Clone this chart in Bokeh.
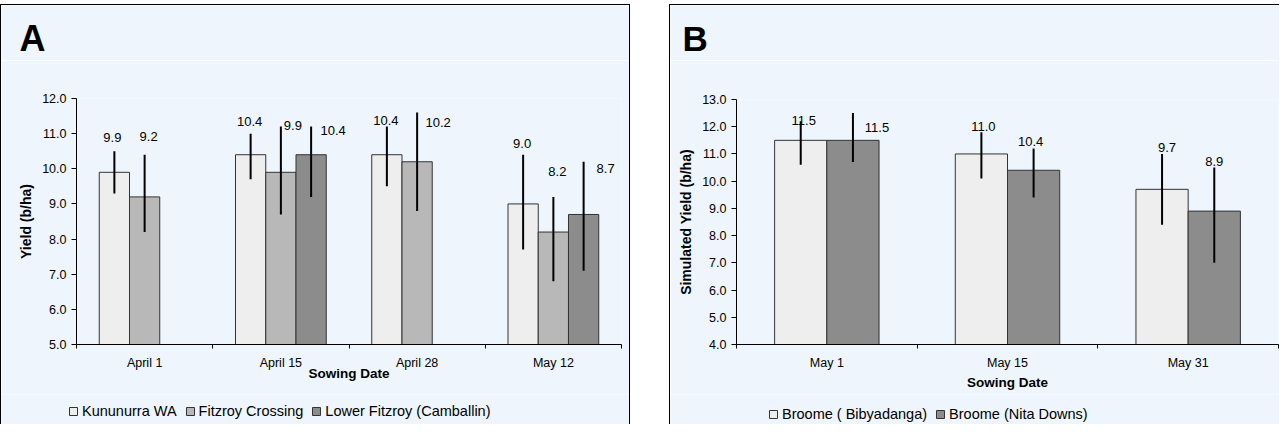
import numpy as np
from bokeh.plotting import figure
from bokeh.models import (ColumnDataSource, Range1d, FixedTicker, PrintfTickFormatter,
                          Legend, LegendItem, Label)
from bokeh.layouts import row, column
from bokeh.core.properties import value
from bokeh.embed import file_html
from bokeh.resources import INLINE

nan = float("nan")

# ---------------- data: panel A ----------------
dates_a = ["April 1", "April 15", "April 28", "May 12"]
series_a = ["Kununurra WA", "Fitzroy Crossing", "Lower Fitzroy (Camballin)"]
kununurra = [9.9, 10.4, 10.4, 9.0]
kununurra_lo = [9.3, 9.7, 9.5, 7.7]
kununurra_hi = [10.5, 11.0, 11.2, 10.4]
fitzroy = [9.2, 9.9, 10.2, 8.2]
fitzroy_lo = [8.2, 8.7, 8.8, 6.8]
fitzroy_hi = [10.4, 11.2, 11.6, 9.2]
lower_fitzroy = [nan, 10.4, nan, 8.7]
lower_fitzroy_lo = [nan, 9.2, nan, 7.1]
lower_fitzroy_hi = [nan, 11.2, nan, 10.2]
yticks_a = [5.0, 6.0, 7.0, 8.0, 9.0, 10.0, 11.0, 12.0]

# ---------------- data: panel B ----------------
dates_b = ["May 1", "May 15", "May 31"]
series_b = ["Broome ( Bibyadanga)", "Broome (Nita Downs)"]
bibyadanga = [11.5, 11.0, 9.7]
bibyadanga_lo = [10.6, 10.1, 8.4]
bibyadanga_hi = [12.2, 11.8, 11.0]
nita_downs = [11.5, 10.4, 8.9]
nita_downs_lo = [10.7, 9.4, 7.0]
nita_downs_hi = [12.5, 11.2, 10.5]
yticks_b = [4.0, 5.0, 6.0, 7.0, 8.0, 9.0, 10.0, 11.0, 12.0, 13.0]

# label nudges (screen pixels, relative to error-bar top)
nudge_a = {
    "dx": [[-2, -1, -1, -1], [4, 12, 21, 4], [0, 22, 0, 22]],
    "dy": [[-14, -12, -6, -11], [-18, -1, 10, -25], [0, 4, 0, 7]],
}
nudge_b = {
    "dx": [[3, 2, 5], [24, -3, 0]],
    "dy": [[-1, -6, -6], [14, -7, -6]],
}

# ---------------- styles ----------------
BG = "#EEF5FC"
FONT = "Liberation Sans"
COLORS_A = ["#EEEEEE", "#B8B8B8", "#8C8C8C"]
COLORS_B = ["#EEEEEE", "#8C8C8C"]
EDGE = "#333333"


def no_align(f):
    if "frame_align" in f.properties():
        f.frame_align = False


def blank_fig(width, height, css):
    f = figure(width=width, height=height, x_range=Range1d(0, 1), y_range=Range1d(0, 1),
               x_axis_type=None, y_axis_type=None, title=None,
               output_backend="svg", toolbar_location=None, min_border=0,
               background_fill_color=BG, border_fill_color=BG, outline_line_color=None)
    f.styles = css
    no_align(f)
    return f


def make_panel(width, letter, letter_pos, letter_size, dates, names, vals, los, his, colors,
               bar_w, yticks, ylabel, nudge, mb, xlab_standoff, ylab_standoff,
               css_top, css_side, legend_loc):
    n = len(dates)

    # --- strip with the panel letter ---
    top = blank_fig(width, 56, css_top)
    top.margin = (4, 0, 0, 0)
    top.add_layout(Label(x=letter_pos[0], y=letter_pos[1], x_units="screen", y_units="screen",
                         text=letter, text_font=FONT, text_font_size=letter_size,
                         text_font_style="bold", text_color="black",
                         text_baseline="middle", text_align="left"))

    # --- chart ---
    p = figure(width=width, height=334, x_range=Range1d(0, n),
               y_range=Range1d(yticks[0], yticks[-1]), title=None,
               output_backend="svg", toolbar_location=None,
               min_border_left=mb[0], min_border_right=mb[1],
               min_border_top=mb[2], min_border_bottom=mb[3],
               background_fill_color=BG, border_fill_color=BG,
               outline_line_color=None)
    p.styles = css_side
    no_align(p)
    p.xgrid.visible = False
    p.ygrid.visible = False

    k = len(names)
    idx = np.arange(n, dtype=float)
    for i in range(k):
        off = (i - (k - 1) / 2.0) * bar_w
        src = ColumnDataSource(dict(
            x=idx + 0.5 + off,
            top=np.array(vals[i], dtype=float),
            lo=np.array(los[i], dtype=float),
            hi=np.array(his[i], dtype=float),
            txt=["" if np.isnan(v) else "%.1f" % v for v in np.array(vals[i], dtype=float)],
            dx=nudge["dx"][i], dy=nudge["dy"][i],
        ))
        p.vbar(x="x", top="top", bottom=yticks[0], width=bar_w, source=src,
               fill_color=colors[i], line_color=EDGE, line_width=1)
        p.segment(x0="x", y0="lo", x1="x", y1="hi", source=src,
                  line_color="black", line_width=2)
        p.text(x="x", y="hi", text="txt", x_offset="dx", y_offset="dy", source=src,
               text_font=value(FONT), text_font_size="13px", text_color="black",
               text_align="center", text_baseline="middle")

    ya = p.yaxis[0]
    ya.ticker = FixedTicker(ticks=yticks)
    ya.formatter = PrintfTickFormatter(format="%.1f")
    ya.major_tick_out = 5
    ya.major_tick_in = 0
    ya.minor_tick_out = 0
    ya.minor_tick_in = 0
    ya.axis_line_color = "black"
    ya.major_tick_line_color = "black"
    ya.major_label_text_font = FONT
    ya.major_label_text_font_size = "12.5px"
    ya.major_label_text_color = "black"
    ya.major_label_standoff = 5
    ya.axis_label = ylabel
    ya.axis_label_text_font = FONT
    ya.axis_label_text_font_size = "14px"
    ya.axis_label_text_font_style = "bold"
    ya.axis_label_text_color = "black"
    ya.axis_label_standoff = ylab_standoff

    xa = p.xaxis[0]
    centres = [i + 0.5 for i in range(n)]
    xa.ticker = FixedTicker(ticks=centres, minor_ticks=list(range(n + 1)))
    xa.major_label_overrides = {c: d for c, d in zip(centres, dates)}
    xa.major_tick_out = 0
    xa.major_tick_in = 0
    xa.minor_tick_out = 4
    xa.minor_tick_in = 0
    xa.minor_tick_line_color = "black"
    xa.axis_line_color = "black"
    xa.major_label_text_font = FONT
    xa.major_label_text_font_size = "12.5px"
    xa.major_label_text_color = "black"
    xa.major_label_standoff = 7
    xa.axis_label = "Sowing Date"
    xa.axis_label_text_font = FONT
    xa.axis_label_text_font_size = "13.5px"
    xa.axis_label_text_font_style = "bold"
    xa.axis_label_text_color = "black"
    xa.axis_label_standoff = xlab_standoff

    # --- legend strip (keys carry the series colours, no visible marks) ---
    leg = blank_fig(width, 30, css_side)
    keys = []
    for i in range(k):
        keys.append(leg.vbar(x=[nan], top=[nan], width=0.1, fill_color=colors[i],
                             line_color=EDGE, line_width=1))
    legend = Legend(items=[LegendItem(label=nm, renderers=[r], index=0)
                           for nm, r in zip(names, keys)],
                    location=legend_loc, orientation="horizontal",
                    glyph_width=10, glyph_height=10, label_standoff=4, spacing=8,
                    padding=0, margin=0, border_line_color=None,
                    background_fill_alpha=0,
                    label_text_font=FONT, label_text_font_size="14.5px",
                    label_text_color="black")
    leg.add_layout(legend)

    return column(top, p, leg, spacing=0)


colA = make_panel(630, "A", (18, 23.5), "36px", dates_a, series_a,
                  [kununurra, fitzroy, lower_fitzroy],
                  [kununurra_lo, fitzroy_lo, lower_fitzroy_lo],
                  [kununurra_hi, fitzroy_hi, lower_fitzroy_hi],
                  COLORS_A, 0.222, yticks_a, "Yield (b/ha)", nudge_a,
                  (75, 10, 38, 50), -7, 5,
                  {"border-top": "1.5px solid black", "border-left": "1px solid black",
                   "border-right": "1px solid black"},
                  {"border-left": "1px solid black", "border-right": "1px solid black"},
                  (67, 5.5))

colB = make_panel(610, "B", (12, 22.8), "35px", dates_b, series_b,
                  [bibyadanga, nita_downs],
                  [bibyadanga_lo, nita_downs_lo],
                  [bibyadanga_hi, nita_downs_hi],
                  COLORS_B, 0.289, yticks_b, "Simulated Yield (b/ha)", nudge_b,
                  (66, 2, 39, 50), 2, 5,
                  {"border-top": "1.5px solid black", "border-left": "1px solid black"},
                  {"border-left": "1px solid black"},
                  (98, 2.5))

layout = row(colA, colB, spacing=39)
open("out.html", "w").write(file_html(layout, INLINE))
